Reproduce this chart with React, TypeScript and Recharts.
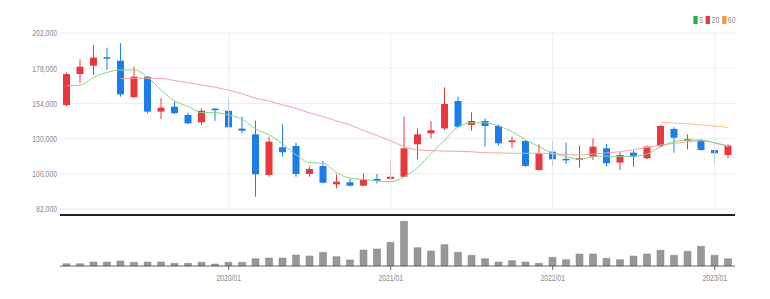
import { Bar, ComposedChart, Line, XAxis, YAxis, CartesianGrid, ReferenceLine } from "recharts"

const dates = [
  "2019/01", "2019/02", "2019/03", "2019/04", "2019/05", "2019/06", "2019/07", "2019/08", "2019/09", "2019/10", "2019/11", "2019/12",
  "2020/01", "2020/02", "2020/03", "2020/04", "2020/05", "2020/06", "2020/07", "2020/08", "2020/09", "2020/10", "2020/11", "2020/12",
  "2021/01", "2021/02", "2021/03", "2021/04", "2021/05", "2021/06", "2021/07", "2021/08", "2021/09", "2021/10", "2021/11", "2021/12",
  "2022/01", "2022/02", "2022/03", "2022/04", "2022/05", "2022/06", "2022/07", "2022/08", "2022/09", "2022/10", "2022/11", "2022/12",
  "2023/01", "2023/02",
]

const opens = [
  152900, 174000, 179700, 185500, 183100, 158200, 172200, 148400, 151800, 146100, 141100, 150400,
  149000, 136800, 132900, 105200, 124100, 125000, 105900, 111300, 98800, 100200, 97900, 102500,
  102500, 104000, 126100, 133600, 137000, 155600, 139300, 142000, 138600, 127600, 128400, 108600,
  121100, 116200, 115900, 117700, 123400, 113600, 120400, 116600, 124800, 136600, 128800, 129000,
  122200, 118800,
]
const closes = [
  174000, 179000, 185200, 184800, 160200, 172200, 148400, 151100, 147300, 140400, 149000, 149700,
  137700, 135400, 105700, 127900, 120700, 105900, 109300, 99900, 100600, 97900, 101800, 101100,
  104000, 123400, 132900, 135700, 153600, 138100, 142000, 138600, 126800, 128800, 111300, 120000,
  115900, 115600, 116600, 124500, 113200, 118800, 117700, 124500, 138600, 130600, 129700, 122200,
  120000, 125200,
]
const highs = [
  175000, 184000, 193800, 192000, 195000, 179000, 172600, 157500, 155200, 147700, 150700, 150900,
  157000, 145000, 142200, 131300, 139800, 127200, 110800, 114700, 105700, 102500, 106300, 105900,
  115400, 145000, 137000, 142000, 165000, 158600, 147900, 143800, 139500, 131300, 128800, 126100,
  128400, 127200, 125200, 130200, 126300, 121100, 121800, 125200, 139100, 137700, 132900, 129700,
  122500, 126100,
]
const lows = [
  152000, 167700, 173400, 176800, 158600, 157800, 147300, 143200, 146800, 139800, 139300, 142000,
  137000, 133600, 90400, 104000, 117700, 104000, 104000, 99500, 96100, 97500, 97500, 99500,
  101800, 103500, 115900, 130200, 135900, 137500, 135400, 124500, 125200, 123400, 110800, 108100,
  111300, 112700, 110400, 115400, 110900, 108600, 110900, 116000, 124500, 120400, 122700, 121800,
  112700, 116600,
]
// thousand shares
const volumes = [
  230, 230, 400, 400, 500, 370, 400, 400, 270, 270, 370, 200,
  370, 370, 730, 800, 800, 1100, 1000, 1370, 930, 600, 1600, 1700,
  2370, 4470, 1830, 1500, 2130, 1370, 1070, 730, 400, 530, 400, 270,
  870, 630, 1200, 1200, 770, 630, 1000, 1200, 1570, 1070, 1470, 1970,
  1070, 730,
]
const ma5 = [
  166000, 166500, 171800, 175200, 176800, 176800, 171800, 163100, 155600, 151800, 147700, 147700,
  146100, 143200, 136500, 132500, 126300, 118800, 113600, 113200, 106800, 102900, 102200, 101100,
  100600, 104000, 110400, 120000, 129000, 138100, 140800, 140800, 138600, 134700, 129000, 124500,
  120000, 117700, 115900, 117700, 118100, 117700, 118100, 119500, 124500, 127900, 129000, 129000,
  127200, 125000,
]
const ma20 = [
  null, null, null, null, 171000, 171100, 171100, 171000, 169500, 168000, 166500, 165000,
  163000, 160500, 157500, 155500, 153000, 150500, 147500, 145000, 142000, 139300, 135500, 132000,
  128500, 124500, 122200, 121800, 121500, 121300, 121000, 120400, 120200, 120000, 120000, 120000,
  119800, 119200, 118800, 119500, 120300, 121100, 122500, 124000, 125600, 126800, 127800, 128600,
  127000, 124500,
]
const ma60 = [
  null, null, null, null, null, null, null, null, null, null, null, null,
  null, null, null, null, null, null, null, null, null, null, null, null,
  null, null, null, null, null, null, null, null, null, null, null, null,
  null, null, null, null, null, null, null, null, 141100, 140600, 140000, 139300,
  138500, 137700,
]

const priceTicks = [82000, 106000, 130000, 154000, 178000, 202000]
const yearTicks = ["2020/01", "2021/01", "2022/01", "2023/01"]

const RED = "#e8383d"
const BLUE = "#1d7de8"
const FONT = "'Liberation Sans', Arial, sans-serif"
const SQUEEZE = 0.72

const data = dates.map((date, i) => ({
  date,
  open: opens[i],
  close: closes[i],
  high: highs[i],
  low: lows[i],
  volume: volumes[i],
  ma5: ma5[i],
  ma20: ma20[i],
  ma60: ma60[i],
}))

const Candle = (props: any) => {
  const { x, width, payload } = props
  let { y, height } = props
  if (height < 0) {
    y = y + height
    height = -height
  }
  const { open, close, high, low } = payload
  const color = close >= open ? RED : BLUE
  const ratio = height / (high - low || 1)
  const yOpen = y + (high - open) * ratio
  const yClose = y + (high - close) * ratio
  const top = Math.min(yOpen, yClose)
  const bodyH = Math.max(Math.abs(yOpen - yClose), 1.5)
  const cx = x + width / 2
  return (
    <g>
      <line x1={cx} x2={cx} y1={y} y2={y + height} stroke={color} strokeWidth={1} />
      <rect x={x} y={top} width={width} height={bodyH} fill={color} />
    </g>
  )
}

// narrow tick text like the original
const PriceTick = ({ x, y, payload }: any) => (
  <text
    transform={`translate(${x},${y}) scale(${SQUEEZE},1)`}
    textAnchor="end"
    dy="0.35em"
    fontSize={9.5}
    fill="#8a8a8a"
    fontFamily={FONT}
  >
    {payload.value.toLocaleString("en-US")}
  </text>
)

const DateTick = ({ x, y, payload }: any) => (
  <text
    transform={`translate(${x},${y}) scale(${SQUEEZE},1)`}
    textAnchor="middle"
    dy="0.75em"
    fontSize={9.5}
    fill="#8a8a8a"
    fontFamily={FONT}
  >
    {payload.value}
  </text>
)

export default function App() {
  return (
    <div style={{ position: "absolute", left: 0, top: 0, width: 770, height: 299, background: "#fff", fontFamily: FONT }}>
      <div style={{ position: "absolute", left: 0, top: 0 }}>
        <ComposedChart width={770} height={216} data={data} margin={{ top: 33, right: 35, bottom: 7, left: 0 }}>
          <CartesianGrid horizontal vertical={false} stroke="#ececec" />
          <XAxis dataKey="date" hide />
          <YAxis
            domain={[82000, 202000]}
            ticks={priceTicks}
            interval={0}
            width={60}
            axisLine={false}
            tickLine={false}
            tickSize={0}
            tickMargin={3}
            tick={<PriceTick />}
          />
          {yearTicks.map((t) => (
            <ReferenceLine key={t} x={t} stroke="#ececec" />
          ))}
          <Line dataKey="ma20" type="monotone" stroke="#f4a3a3" strokeWidth={1} dot={false} isAnimationActive={false} />
          <Line dataKey="ma60" type="monotone" stroke="#f8c089" strokeWidth={1} dot={false} isAnimationActive={false} />
          <Line dataKey="ma5" type="monotone" stroke="#86d686" strokeWidth={1} dot={false} isAnimationActive={false} />
          <Bar dataKey={(d: any) => [d.low, d.high]} barSize={7} shape={Candle} isAnimationActive={false} />
        </ComposedChart>
      </div>
      <div style={{ position: "absolute", left: 0, top: 210 }}>
        <ComposedChart width={770} height={89} data={data} margin={{ top: 5, right: 35, bottom: 0, left: 60 }}>
          <XAxis
            dataKey="date"
            ticks={yearTicks}
            interval={0}
            height={33}
            axisLine={{ stroke: "#666" }}
            tickLine={{ stroke: "#666" }}
            tickSize={4}
            tickMargin={4}
            tick={<DateTick />}
          />
          <YAxis hide domain={[0, 5100]} />
          <Bar dataKey="volume" barSize={7} fill="#989898" stroke="#808080" strokeWidth={0.5} isAnimationActive={false} />
          <ReferenceLine y={5100} stroke="#222" strokeWidth={2} />
        </ComposedChart>
      </div>
      <div
        style={{
          position: "absolute",
          top: 15,
          right: 35,
          fontSize: 9.5,
          color: "#8a8a8a",
          display: "flex",
          alignItems: "center",
          gap: 2,
          lineHeight: "10px",
          transform: `scale(${SQUEEZE},1)`,
          transformOrigin: "right center",
        }}
      >
        <span style={{ width: 6, height: 8, background: "#22b43c", display: "inline-block" }} />
        <span>5</span>
        <span style={{ width: 6, height: 8, background: RED, display: "inline-block", marginLeft: 2 }} />
        <span>20</span>
        <span style={{ width: 6, height: 8, background: "#f29a3a", display: "inline-block", marginLeft: 2 }} />
        <span>60</span>
      </div>
    </div>
  )
}
